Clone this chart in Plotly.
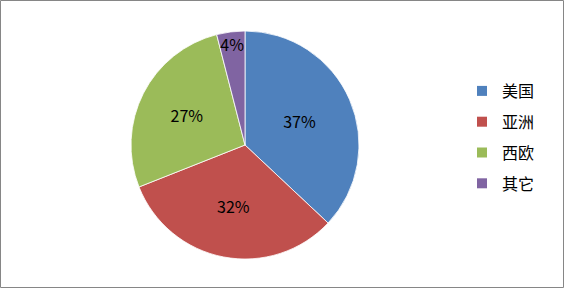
import plotly.graph_objects as go

labels = ["美国", "亚洲", "西欧", "其它"]
values = [37, 32, 27, 4]
colors = ["#4F81BD", "#C0504D", "#9BBB59", "#8064A2"]

W, H = 565, 289
FONT = "Noto Sans CJK SC"

fig = go.Figure()
fig.add_trace(go.Pie(
    labels=labels,
    values=values,
    sort=False,
    direction="clockwise",
    rotation=0,
    marker=dict(colors=colors, line=dict(color="white", width=0.8)),
    textinfo="percent",
    texttemplate="%{percent:.0%}",
    textposition="inside",
    insidetextorientation="horizontal",
    textfont=dict(size=16, color="black", family=FONT),
    domain=dict(x=[131 / W, 359 / W], y=[(H - 259) / H, (H - 31) / H]),
    hoverinfo="label+percent",
    showlegend=False,
))

# legend entries (one group each, so the gap between them can be set)
for lab, col in zip(labels, colors):
    fig.add_trace(go.Scatter(
        x=[None], y=[None], mode="markers", name=lab,
        legendgroup=lab,
        marker=dict(symbol="square", size=10, color=col),
        hoverinfo="skip",
    ))

fig.update_layout(
    width=W, height=H,
    margin=dict(l=0, r=0, t=0, b=0),
    paper_bgcolor="white",
    plot_bgcolor="white",
    font=dict(family=FONT, size=16, color="black"),
    uniformtext=dict(minsize=16, mode="show"),
    showlegend=True,
    xaxis=dict(visible=False),
    yaxis=dict(visible=False),
    legend=dict(
        x=462 / W, y=1 - 137.5 / H, xanchor="left", yanchor="middle",
        font=dict(size=16, color="black", family=FONT),
        tracegroupgap=7,
        itemwidth=30,
        bgcolor="rgba(0,0,0,0)",
    ),
    shapes=[dict(
        type="rect", xref="paper", yref="paper",
        x0=0.5 / W, x1=(W - 1.5) / W, y0=1.5 / H, y1=1 - 0.5 / H,
        line=dict(color="#868686", width=1),
        fillcolor="rgba(0,0,0,0)",
    )],
)

fig.write_html("out.html")
